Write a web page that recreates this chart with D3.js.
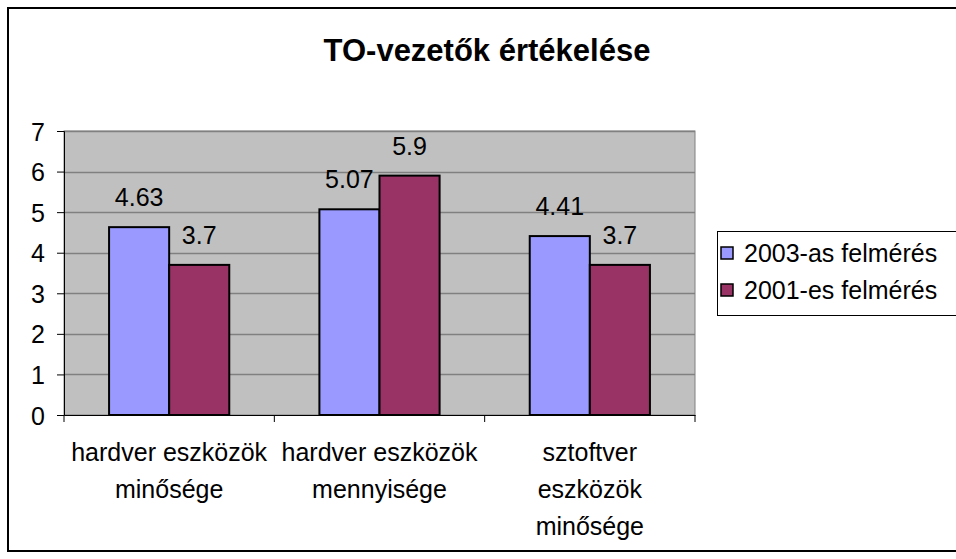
<!DOCTYPE html>
<html>
<head>
<meta charset="utf-8">
<script src="https://cdn.jsdelivr.net/npm/d3@7"></script>
<style>
  body { margin: 0; background: #fff; }
  svg text { font-family: "Liberation Sans", Arial, sans-serif; fill: #000; }
</style>
</head>
<body>
<div id="chart"></div>
<script>
const categories = [
  ["hardver eszközök", "minősége"],
  ["hardver eszközök", "mennyisége"],
  ["sztoftver", "eszközök", "minősége"],
];
const seriesNames = ["2003-as felmérés", "2001-es felmérés"];
const values2003 = [4.63, 5.07, 4.41];
const values2001 = [3.7, 5.9, 3.7];
const yTicks = [0, 1, 2, 3, 4, 5, 6, 7];

const colors = ["#9999ff", "#993366"];
const width = 956, height = 559;

const svg = d3.select("#chart").append("svg")
  .attr("width", width).attr("height", height);

// outer frame (right side falls outside the picture)
svg.append("rect")
  .attr("x", 8).attr("y", 8)
  .attr("width", 960).attr("height", 543)
  .attr("fill", "#fff").attr("stroke", "#000").attr("stroke-width", 2);

svg.append("text")
  .attr("x", 487).attr("y", 61)
  .attr("text-anchor", "middle")
  .style("font-size", "31px").style("font-weight", "bold")
  .text("TO-vezetők értékelése");

const plot = { left: 64, right: 695, top: 131, bottom: 415 };

const x = d3.scaleBand()
  .domain(d3.range(categories.length))
  .range([plot.left, plot.right]);

const xInner = d3.scaleBand()
  .domain(d3.range(seriesNames.length))
  .range([0, x.bandwidth()])
  .paddingOuter(0.75);

const y = d3.scaleLinear().domain([0, 7]).range([plot.bottom, plot.top]);

// plot background
svg.append("rect")
  .attr("x", plot.left).attr("y", plot.top)
  .attr("width", plot.right - plot.left).attr("height", plot.bottom - plot.top)
  .attr("fill", "#c0c0c0").attr("stroke", "#808080");

// gridlines
svg.append("g")
  .selectAll("line")
  .data(yTicks.slice(1))
  .join("line")
  .attr("x1", plot.left).attr("x2", plot.right)
  .attr("y1", (d) => Math.round(y(d)) + 0.5).attr("y2", (d) => Math.round(y(d)) + 0.5)
  .attr("stroke", "#808080").attr("stroke-width", 1.5);

// y axis
const yAxis = svg.append("g")
  .attr("transform", `translate(${plot.left},0)`)
  .call(d3.axisLeft(y).tickValues(yTicks).tickSize(7).tickPadding(12).tickFormat(d3.format("d")));
yAxis.select(".domain").attr("stroke", "#000");
yAxis.selectAll("line").attr("stroke", "#000");
yAxis.selectAll("text").style("font-size", "25px").attr("fill", "#000").attr("dy", "0.36em");

// x axis
const xAxis = svg.append("g")
  .attr("transform", `translate(0,${plot.bottom})`)
  .call(d3.axisBottom(x).tickSize(0).tickFormat(""));
xAxis.select(".domain").attr("stroke", "#000");
xAxis.selectAll(".tick").remove();
xAxis.selectAll("line.sep")
  .data(d3.range(categories.length + 1))
  .join("line")
  .attr("class", "sep")
  .attr("x1", (i) => i < categories.length ? x(i) : plot.right)
  .attr("x2", (i) => i < categories.length ? x(i) : plot.right)
  .attr("y1", 0).attr("y2", 7)
  .attr("stroke", "#000");

// category labels
const catLabels = svg.append("g")
  .selectAll("text")
  .data(categories)
  .join("text")
  .attr("text-anchor", "middle")
  .style("font-size", "25px")
  .attr("x", (d, i) => x(i) + x.bandwidth() / 2)
  .attr("y", 461);
catLabels.selectAll("tspan")
  .data((d) => d)
  .join("tspan")
  .attr("x", function () { return this.parentNode.getAttribute("x"); })
  .attr("dy", (d, i) => (i === 0 ? 0 : 37))
  .text((d) => d);

// bars
const series = [values2003, values2001];
const groups = svg.append("g")
  .selectAll("g")
  .data(series)
  .join("g")
  .attr("fill", (d, i) => colors[i]);

groups.each(function (vals, si) {
  const g = d3.select(this);
  g.selectAll("rect")
    .data(vals)
    .join("rect")
    .attr("x", (d, i) => x(i) + xInner(si))
    .attr("y", (d) => y(d))
    .attr("width", xInner.bandwidth())
    .attr("height", (d) => y(0) - y(d))
    .attr("stroke", "#000").attr("stroke-width", 2);

  g.selectAll("text")
    .data(vals)
    .join("text")
    .attr("text-anchor", "middle")
    .style("font-size", "25px")
    .attr("fill", "#000")
    .attr("x", (d, i) => x(i) + xInner(si) + xInner.bandwidth() / 2)
    .attr("y", (d) => y(d) - 21)
    .text((d) => d);
});

// legend (right edge runs off the picture like the frame)
const legend = svg.append("g").attr("transform", "translate(717,231)");
legend.append("rect")
  .attr("x", 0.5).attr("y", 0.5).attr("width", 260).attr("height", 84)
  .attr("fill", "#fff").attr("stroke", "#000");
const items = legend.selectAll("g.item")
  .data(seriesNames)
  .join("g")
  .attr("class", "item")
  .attr("transform", (d, i) => `translate(0,${31 + i * 37})`);
items.append("rect")
  .attr("x", 4).attr("y", -15).attr("width", 12).attr("height", 12)
  .attr("fill", (d, i) => colors[i]).attr("stroke", "#000").attr("stroke-width", 1.5);
items.append("text")
  .attr("x", 27).attr("y", 0)
  .style("font-size", "25px")
  .text((d) => d);
</script>
</body>
</html>
